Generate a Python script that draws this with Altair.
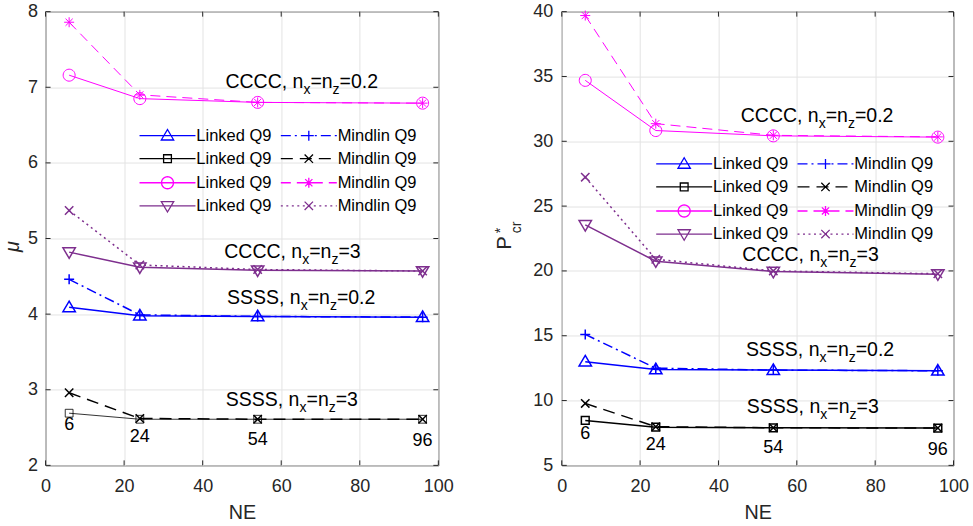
import altair as alt
import pandas as pd
import math

# ---------------- data ----------------
ne = [6, 24, 54, 96]

mu_ssss02_linked = [4.09, 3.98, 3.97, 3.96]
mu_ssss02_mindlin = [4.46, 3.99, 3.97, 3.96]
mu_ssss3_linked = [2.69, 2.61, 2.61, 2.61]
mu_ssss3_mindlin = [2.96, 2.62, 2.61, 2.61]
mu_cccc02_linked = [7.16, 6.85, 6.80, 6.79]
mu_cccc02_mindlin = [7.86, 6.90, 6.80, 6.79]
mu_cccc3_linked = [4.82, 4.62, 4.58, 4.57]
mu_cccc3_mindlin = [5.37, 4.65, 4.59, 4.57]

p_ssss02_linked = [13.0, 12.4, 12.35, 12.3]
p_ssss02_mindlin = [15.1, 12.5, 12.35, 12.3]
p_ssss3_linked = [8.47, 7.95, 7.9, 7.88]
p_ssss3_mindlin = [9.78, 7.98, 7.9, 7.88]
p_cccc02_linked = [34.7, 30.83, 30.42, 30.32]
p_cccc02_mindlin = [39.7, 31.36, 30.46, 30.34]
p_cccc3_linked = [23.55, 20.75, 19.95, 19.75]
p_cccc3_mindlin = [27.23, 20.9, 20.0, 19.78]

series_ids = ["L1", "M1", "L2", "M2", "L3", "M3", "L4", "M4"]
series_colors = ["#0000FF", "#0000FF", "#000000", "#000000",
                 "#FF00FF", "#FF00FF", "#7E2F8E", "#7E2F8E"]
series_markers = ["tri_up", "plus", "square", "xmark", "circle", "star", "tri_down", "xmark"]
series_dash = [None, [10, 4, 2, 4], None, [12, 7], None, [10, 6], None, [2, 3.5]]
left_widths = [1.5, 1.5, 0.8, 1.5, 1.0, 1.0, 1.5, 1.5]
right_widths = [1.5, 1.5, 1.5, 1.5, 1.0, 1.0, 1.5, 1.5]

# legend columns are filled top to bottom: Linked entries first, Mindlin entries second
legend_order = ["L1", "L2", "L3", "L4", "M1", "M2", "M3", "M4"]

left_values = [mu_ssss02_linked, mu_ssss02_mindlin, mu_ssss3_linked, mu_ssss3_mindlin,
               mu_cccc02_linked, mu_cccc02_mindlin, mu_cccc3_linked, mu_cccc3_mindlin]
right_values = [p_ssss02_linked, p_ssss02_mindlin, p_ssss3_linked, p_ssss3_mindlin,
                p_cccc02_linked, p_cccc02_mindlin, p_cccc3_linked, p_cccc3_mindlin]

point_labels = ["6", "24", "54", "96"]
left_label_y = [2.53, 2.37, 2.34, 2.32]
right_label_y = [7.39, 6.54, 6.31, 6.16]

ann_prefix = ["CCCC", "CCCC", "SSSS", "SSSS"]
ann_value = ["0.2", "3", "0.2", "3"]
left_ann_x = [45.8, 45.5, 46.2, 45.9]
left_ann_y = [6.99, 4.74, 4.14, 2.79]
right_ann_x = [45.7, 46.1, 47.0, 47.2]
right_ann_y = [31.46, 20.75, 13.42, 9.06]

x_ticks = [0, 20, 40, 60, 80, 100]
left_y_ticks = [2, 3, 4, 5, 6, 7, 8]
right_y_ticks = [5, 10, 15, 20, 25, 30, 35, 40]

# ---------------- styling helpers ----------------
FONT = "Liberation Sans"
AXC = "#262626"
W, H = 393, 454
W2 = 392
MSIZE = 144          # symbol area -> unit = 6 px
UNIT = math.sqrt(MSIZE) / 2

AW = {'C': 722, 'S': 667, ',': 278, ' ': 278, 'n': 556, 'x': 500, 'z': 500,
      '=': 584, '0': 556, '.': 278, '2': 556, '3': 556}


def tw(s, fs):
    return sum(AW[c] for c in s) * fs / 1000.0


def marker_subpaths(name):
    if name == "tri_up":
        return [([(0, -6.2), (6.2, 4.3), (-6.2, 4.3)], True)]
    if name == "tri_down":
        return [([(0, 6.2), (6.2, -4.3), (-6.2, -4.3)], True)]
    if name == "square":
        s = 3.9
        return [([(-s, -s), (s, -s), (s, s), (-s, s)], True)]
    if name == "circle":
        pts = [(6 * math.cos(2 * math.pi * k / 28), 6 * math.sin(2 * math.pi * k / 28)) for k in range(28)]
        return [(pts, True)]
    if name == "plus":
        return [([(-5, 0), (5, 0)], False), ([(0, -5), (0, 5)], False)]
    if name == "xmark":
        s = 4.2
        return [([(-s, -s), (s, s)], False), ([(-s, s), (s, -s)], False)]
    if name == "star":
        d = 3.6
        return [([(-5, 0), (5, 0)], False), ([(0, -5), (0, 5)], False),
                ([(-d, -d), (d, d)], False), ([(-d, d), (d, -d)], False)]
    return []


def f(v):
    return ("%.3f" % v).rstrip("0").rstrip(".")


def subpaths_to_str(subs, scale):
    out = []
    for pts, closed in subs:
        s = "M" + f(pts[0][0] / scale) + "," + f(pts[0][1] / scale)
        for p in pts[1:]:
            s += "L" + f(p[0] / scale) + "," + f(p[1] / scale)
        if closed:
            s += "Z"
        out.append(s)
    return "".join(out)


def legend_line(dash, half=28.0):
    if dash is None:
        return [([(-half, 0), (half, 0)], False)]
    segs = []
    pos = -half
    i = 0
    while pos < half:
        L = dash[i % len(dash)]
        end = min(pos + L, half)
        if i % 2 == 0:
            segs.append(([(pos, 0), (max(end, pos + 0.3), 0)], False))
        pos = end
        i += 1
    return segs


marker_paths = [subpaths_to_str(marker_subpaths(m), UNIT) for m in series_markers]
legend_paths = [subpaths_to_str(legend_line(d) + marker_subpaths(m), UNIT)
                for d, m in zip(series_dash, series_markers)]
idx = [series_ids.index(s) for s in legend_order]
legend_colors_ordered = [series_colors[i] for i in idx]
legend_paths_ordered = [legend_paths[i] for i in idx]


def make_df(values):
    rows = []
    for sid, vals in zip(series_ids, values):
        for x, v in zip(ne, vals):
            rows.append({"sid": sid, "ne": x, "v": v})
    return pd.DataFrame(rows)


def panel(values, widths, ydom, yticks, lab_y, ann_x, ann_y, width, legend_xy, ypad):
    df = make_df(values)
    xs = alt.Scale(domain=[0, 100], nice=False, zero=False)
    ys = alt.Scale(domain=ydom, nice=False, zero=False)
    xax = alt.Axis(values=x_ticks, title="NE", format="d", labelPadding=12,
                   titlePadding=7, titleFontSize=19.8, titleFontWeight="normal",
                   titleColor=AXC, titleFont=FONT)
    yax = alt.Axis(values=yticks, title=None, format="d", labelPadding=ypad)

    def X(field="ne"):
        return alt.X(field + ":Q", scale=xs, axis=xax)

    def Y(field="v"):
        return alt.Y(field + ":Q", scale=ys, axis=yax)

    layers = []
    for sid, col, dash, w in zip(series_ids, series_colors, series_dash, widths):
        kw = dict(stroke=col, strokeWidth=w, clip=True)
        if dash is not None:
            kw["strokeDash"] = dash
        layers.append(alt.Chart(df).transform_filter(alt.datum.sid == sid)
                      .mark_line(**kw).encode(x=X(), y=Y()))
    for sid, col, mp, w in zip(series_ids, series_colors, marker_paths, widths):
        layers.append(
            alt.Chart(df).transform_filter(alt.datum.sid == sid).mark_point(
                filled=False, size=MSIZE, opacity=1, shape=mp, stroke=col, strokeWidth=w
            ).encode(x=X(), y=Y())
        )

    leg = alt.Legend(title=None, orient="none", legendX=legend_xy[0], legendY=legend_xy[1],
                     columns=2, columnPadding=5.4, rowPadding=6.1, symbolOffset=19.75,
                     labelOffset=20.6, padding=0, labelFont=FONT, labelFontSize=16.5,
                     labelColor="#000000", symbolStrokeWidth=1.3, symbolSize=MSIZE,
                     labelExpr="slice(datum.value,0,1)=='L' ? 'Linked Q9' : 'Mindlin Q9'")
    # legend-only layer: its points are placed far outside the domain and clipped away
    legend_layer = alt.Chart(df).transform_calculate(far="-1e6").mark_point(
        filled=False, size=MSIZE, opacity=1, strokeWidth=1.3, clip=True).encode(
        x=X(), y=Y("far"),
        color=alt.Color("sid:N", scale=alt.Scale(domain=legend_order, range=legend_colors_ordered),
                        legend=leg),
        shape=alt.Shape("sid:N", scale=alt.Scale(domain=legend_order, range=legend_paths_ordered),
                        legend=leg),
    )
    layers.append(legend_layer)

    # inward ticks (box on)
    xt = pd.DataFrame({"t": x_ticks})
    yt = pd.DataFrame({"t": yticks})
    tk = dict(color=AXC, strokeWidth=1)
    layers += [
        alt.Chart(xt).mark_rule(**tk).encode(x=X("t"), y=alt.value(H), y2=alt.value(H - 5)),
        alt.Chart(xt).mark_rule(**tk).encode(x=X("t"), y=alt.value(0), y2=alt.value(5)),
        alt.Chart(yt).mark_rule(**tk).encode(y=Y("t"), x=alt.value(0), x2=alt.value(5)),
        alt.Chart(yt).mark_rule(**tk).encode(y=Y("t"), x=alt.value(width), x2=alt.value(width - 5)),
    ]

    labdf = pd.DataFrame({"ne": ne, "ly": lab_y, "txt": point_labels})
    layers.append(alt.Chart(labdf).mark_text(font=FONT, fontSize=18, color="#000000",
                                             align="center", baseline="middle").encode(
        x=X(), y=Y("ly"), text="txt:N"))

    FS, FSS, SUBDY = 19.5, 14, 6
    for pre, val, ax_, ay_ in zip(ann_prefix, ann_value, ann_x, ann_y):
        pieces = [(pre + ", n", FS, 0), ("x", FSS, SUBDY), ("=n", FS, 0),
                  ("z", FSS, SUBDY), ("=" + val, FS, 0)]
        d = pd.DataFrame({"ax": [ax_], "ay": [ay_]})
        off = 0.0
        for txt, fs, dy in pieces:
            layers.append(alt.Chart(d).mark_text(font=FONT, fontSize=fs, color="#000000",
                                                 align="left", baseline="alphabetic",
                                                 dx=off, dy=dy).encode(
                x=X("ax"), y=Y("ay"), text=alt.value(txt)))
            off += tw(txt, fs)
    return layers


one = pd.DataFrame({"a": [0]})


def title_text(txt, fs, x, y, italic=False):
    kw = dict(font=FONT, fontSize=fs, angle=270, align="center", baseline="middle", color=AXC)
    if italic:
        kw["fontStyle"] = "italic"
    return alt.Chart(one).mark_text(**kw).encode(x=alt.value(x), y=alt.value(y), text=alt.value(txt))


left_layers = panel(left_values, left_widths, [2, 8], left_y_ticks, left_label_y,
                    left_ann_x, left_ann_y, W, (94, 115.75), 8)
left = alt.layer(*left_layers, title_text("μ", 19.8, -32.5, 235, italic=True)).properties(width=W, height=H)

right_layers = panel(right_values, right_widths, [5, 40], right_y_ticks, right_label_y,
                     right_ann_x, right_ann_y, W2, (94.5, 144), 9)
right = alt.layer(
    *right_layers,
    title_text("P", 19.8, -56.7, 231.5),
    title_text("*", 14, -60.7, 219),
    title_text("cr", 14, -44.5, 216),
).properties(width=W2, height=H)

chart = alt.hconcat(left, right, spacing=123.5, bounds="flush").resolve_scale(
    color="independent", shape="independent"
).resolve_legend(color="independent", shape="independent").properties(
    padding={"left": 2.6, "top": 1.5, "right": 3, "bottom": 0},
    background="#ffffff",
).configure_view(stroke=AXC, strokeWidth=1).configure_axis(
    labelFont=FONT, labelFontSize=18, labelColor=AXC, grid=True, gridColor="#e3e3e3",
    gridWidth=1, domain=False, ticks=False, tickSize=0, labelFlush=False, labelOverlap=False,
)

chart.save("out.html", embed_options={"renderer": "svg", "actions": False})
